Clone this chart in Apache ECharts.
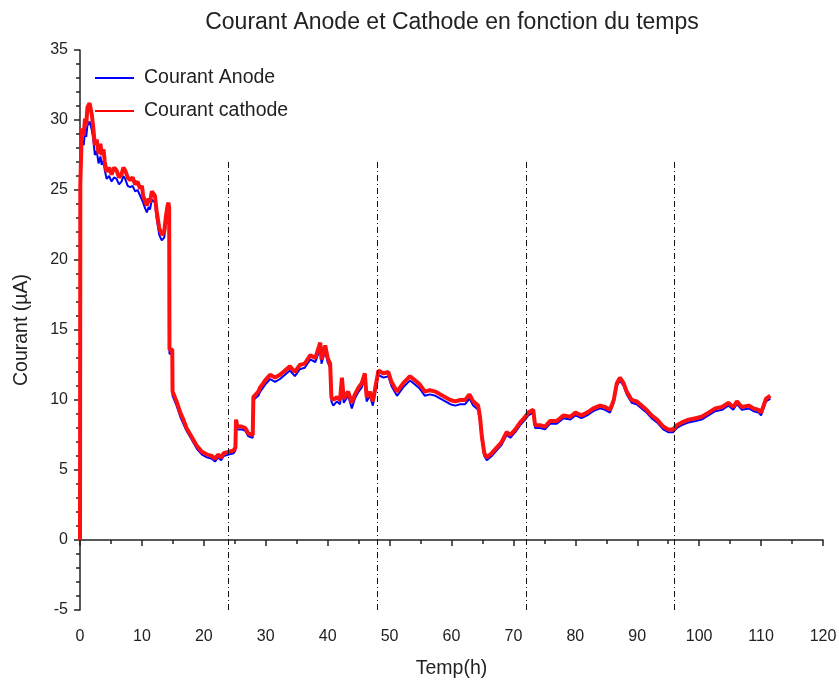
<!DOCTYPE html>
<html>
<head>
<meta charset="utf-8">
<title>Courant Anode et Cathode</title>
<script src="https://cdn.jsdelivr.net/npm/echarts@6/dist/echarts.min.js"></script>
<style>
  html, body { margin: 0; padding: 0; background: #fff; }
  #chart { width: 839px; height: 681px; }
</style>
</head>
<body>
<div id="chart"></div>
<script>
// Time axis (hours) shared by both current series
const temps = [
  0, 0.05, 0.3, 0.6, 0.8, 1.0, 1.2, 1.55, 1.9, 2.15, 2.4, 2.7, 3.0, 3.3, 3.5, 3.8, 4.0, 4.3, 4.7, 5.1,
  5.5, 5.9, 6.3, 6.7, 7.0, 7.3, 7.7, 8.1, 8.5, 8.9, 9.3, 9.7, 10.0, 10.2, 10.5, 10.8, 11.1, 11.3, 11.6, 11.8,
  12.1, 12.4, 12.8, 13.2, 13.6, 13.9, 14.15, 14.3, 14.4, 14.45, 14.9, 14.95, 15.1, 15.6, 16.2, 16.7, 17.2, 18.0, 18.9, 19.7,
  20.5, 21.3, 21.8, 22.3, 22.8, 23.2, 24.0, 24.8, 25.1, 25.2, 25.4, 26.1, 26.7, 27.2, 27.9, 28.0, 28.3, 28.8, 29.1, 29.6,
  29.9, 30.7, 31.5, 32.3, 33.1, 33.9, 34.7, 35.5, 36.3, 37.2, 38.0, 38.8, 39.0, 39.6, 40.0, 40.4, 40.6, 40.9, 41.5, 42.0,
  42.3, 42.6, 43.3, 43.9, 44.4, 45.0, 45.5, 46.0, 46.3, 46.8, 47.3, 47.7, 48.2, 49.0, 49.8, 50.3, 51.2, 52.2, 53.3, 54.1,
  54.9, 55.7, 56.5, 57.4, 58.2, 59.0, 59.8, 60.6, 61.4, 62.2, 62.9, 63.5, 64.3, 64.6, 64.9, 65.3, 65.7, 66.5, 67.3, 68.1,
  68.9, 69.5, 70.3, 71.1, 71.9, 72.4, 73.2, 73.5, 74.3, 75.1, 75.9, 77.0, 78.1, 79.2, 80.0, 81.0, 81.9, 82.9, 84.0, 84.8,
  85.6, 86.2, 86.7, 87.2, 87.8, 88.3, 89.1, 89.9, 90.7, 91.5, 92.3, 93.2, 94.2, 95.0, 95.8, 96.4, 97.2, 98.3, 99.4, 100.4,
  101.5, 102.6, 103.7, 104.7, 105.5, 106.1, 106.9, 108.0, 108.8, 109.6, 110.0, 110.4, 110.8, 111.5
];

// Cathode current (µA)
const courantCathode = [
  0, 25.4, 29.4, 28.9, 30.1, 29.6, 30.9, 31.2, 30.4, 29.4, 28.2, 28.6, 27.6, 28.3, 27.5, 27.9, 27.0, 26.3, 26.6, 26.1,
  26.6, 26.4, 25.9, 26.1, 26.6, 26.4, 25.9, 25.7, 25.9, 25.4, 25.6, 25.1, 25.3, 24.6, 24.2, 23.9, 24.4, 24.1, 24.9, 25.0,
  24.6, 23.4, 22.3, 21.8, 22.0, 23.2, 23.9, 24.1, 23.7, 13.6, 13.6, 10.6, 10.5, 9.9, 9.1, 8.6, 8.0, 7.4, 6.7, 6.3,
  6.1, 6.0, 5.8, 6.1, 5.9, 6.2, 6.3, 6.4, 6.6, 8.6, 8.1, 8.1, 8.0, 7.6, 7.5, 10.2, 10.2, 10.6, 10.9, 11.2,
  11.4, 11.8, 11.6, 11.8, 12.1, 12.4, 12.0, 12.5, 12.6, 13.2, 13.0, 14.1, 12.9, 13.9, 13.0, 12.6, 10.2, 10.0, 10.2, 10.0,
  11.6, 10.1, 10.6, 9.8, 10.4, 10.9, 11.2, 11.9, 10.2, 10.6, 9.9, 10.9, 12.1, 11.9, 12.0, 11.3, 10.6, 11.2, 11.7, 11.4,
  11.1, 10.6, 10.7, 10.6, 10.4, 10.2, 10.0, 9.9, 10.0, 10.0, 10.4, 9.9, 9.6, 8.8, 7.4, 6.2, 5.9, 6.2, 6.6, 7.0,
  7.7, 7.5, 7.9, 8.4, 8.8, 9.1, 9.3, 8.2, 8.2, 8.1, 8.5, 8.5, 8.9, 8.8, 9.1, 8.9, 9.1, 9.4, 9.6, 9.5,
  9.3, 10.0, 11.2, 11.6, 11.2, 10.6, 10.0, 9.9, 9.6, 9.3, 8.9, 8.6, 8.1, 7.9, 7.9, 8.2, 8.4, 8.6, 8.7, 8.8,
  9.1, 9.4, 9.5, 9.8, 9.5, 9.9, 9.5, 9.6, 9.4, 9.3, 9.1, 9.6, 10.1, 10.3
];

// Anode current (µA), sitting just under the cathode trace
const courantAnode = [
  0, 24.9, 28.6, 28.2, 29.2, 28.8, 29.6, 29.9, 29.3, 28.6, 27.5, 27.8, 26.9, 27.4, 26.8, 27.1, 26.4, 25.8, 26.0, 25.6,
  25.9, 25.8, 25.4, 25.6, 26.0, 25.8, 25.3, 25.2, 25.3, 24.9, 25.0, 24.6, 24.7, 24.1, 23.7, 23.4, 23.8, 23.6, 24.3, 24.4,
  24.1, 22.9, 21.8, 21.4, 21.6, 22.7, 23.5, 23.7, 23.3, 13.3, 13.3, 10.3, 10.2, 9.6, 8.8, 8.3, 7.8, 7.2, 6.5, 6.1,
  5.9, 5.8, 5.6, 5.9, 5.7, 6.0, 6.1, 6.2, 6.4, 8.4, 7.9, 7.9, 7.8, 7.4, 7.3, 10.0, 9.9, 10.3, 10.6, 10.9,
  11.1, 11.5, 11.3, 11.5, 11.8, 12.1, 11.7, 12.2, 12.3, 12.9, 12.7, 13.7, 12.6, 13.5, 12.7, 12.3, 9.9, 9.6, 9.9, 9.7,
  11.2, 9.8, 10.3, 9.4, 10.1, 10.6, 10.9, 11.5, 9.9, 10.3, 9.6, 10.6, 11.8, 11.6, 11.7, 11.0, 10.3, 10.9, 11.4, 11.1,
  10.8, 10.3, 10.4, 10.3, 10.1, 9.9, 9.7, 9.6, 9.7, 9.7, 10.1, 9.6, 9.3, 8.5, 7.1, 6.0, 5.7, 6.0, 6.4, 6.8,
  7.5, 7.3, 7.7, 8.2, 8.6, 8.9, 9.1, 8.0, 8.0, 7.9, 8.3, 8.3, 8.7, 8.6, 8.9, 8.7, 8.9, 9.2, 9.4, 9.3,
  9.1, 9.8, 11.0, 11.4, 11.0, 10.4, 9.8, 9.7, 9.4, 9.1, 8.7, 8.4, 7.9, 7.7, 7.7, 8.0, 8.2, 8.4, 8.5, 8.6,
  8.9, 9.2, 9.3, 9.6, 9.3, 9.7, 9.3, 9.4, 9.2, 9.1, 8.9, 9.4, 9.9, 10.1
];

// Day boundaries marked with dash-dot verticals
const reperesJours = [24, 48, 72, 96];
const hauteurReperes = 27.1;

const xTicks = { min: 0, max: 120, interval: 10 };
const yTicks = { min: -5, max: 35, interval: 5 };

const police = "'Liberation Sans', Arial, sans-serif";
const encre = '#222';

const pairs = (vals) => temps.map((t, i) => [t, vals[i]]);

const chart = echarts.init(document.getElementById('chart'), null, { renderer: 'canvas' });

const trait = { color: encre, width: 1.5 };

chart.setOption({
  animation: false,
  backgroundColor: '#ffffff',
  textStyle: { fontFamily: police },
  title: {
    text: 'Courant Anode et Cathode en fonction du temps',
    left: 447,
    textAlign: 'center',
    top: 6,
    textStyle: { fontSize: 23, fontWeight: 'normal', color: encre, fontFamily: police }
  },
  legend: {
    orient: 'vertical',
    left: 90,
    top: 63,
    itemWidth: 39,
    itemHeight: 2,
    itemGap: 13,
    textStyle: { fontSize: 19.5, color: encre, fontFamily: police, padding: [0, 0, 0, 5] },
    data: [
      { name: 'Courant Anode', icon: 'rect' },
      { name: 'Courant cathode', icon: 'rect' }
    ]
  },
  grid: { left: 80, right: 16, top: 50, bottom: 71, containLabel: false, outerBoundsMode: 'none' },
  xAxis: {
    type: 'value',
    min: xTicks.min,
    max: xTicks.max,
    interval: xTicks.interval,
    name: 'Temp(h)',
    nameLocation: 'middle',
    nameGap: 49,
    nameTextStyle: { fontSize: 19.5, color: encre, fontFamily: police },
    axisLine: { show: true, lineStyle: trait },
    axisTick: { show: true, inside: false, length: 6, lineStyle: trait },
    minorTick: { show: true, splitNumber: 2, length: 4, lineStyle: trait },
    axisLabel: { fontSize: 16, color: encre, margin: 19, fontFamily: police },
    splitLine: { show: false }
  },
  yAxis: {
    type: 'value',
    min: yTicks.min,
    max: yTicks.max,
    interval: yTicks.interval,
    name: 'Courant (µA)',
    nameLocation: 'middle',
    nameGap: 48,
    nameRotate: 90,
    nameTextStyle: { fontSize: 19.5, color: encre, fontFamily: police },
    axisLine: { show: true, onZero: false, lineStyle: trait },
    axisTick: { show: true, inside: false, length: 6, lineStyle: trait },
    minorTick: { show: true, splitNumber: 5, length: 4, lineStyle: trait },
    axisLabel: { fontSize: 16, color: encre, margin: 12, fontFamily: police },
    splitLine: { show: false }
  },
  series: [
    {
      name: 'Courant Anode',
      type: 'line',
      data: pairs(courantAnode),
      symbol: 'none',
      color: '#0000ff',
      lineStyle: { color: '#0000ff', width: 2 },
      z: 2,
      markLine: {
        silent: true,
        symbol: ['none', 'none'],
        label: { show: false },
        lineStyle: { color: '#111', width: 1, type: [6, 3, 1, 3] },
        data: reperesJours.map((t) => [
          { coord: [t, yTicks.min] },
          { coord: [t, hauteurReperes] }
        ])
      }
    },
    {
      name: 'Courant cathode',
      type: 'line',
      data: pairs(courantCathode),
      symbol: 'none',
      color: '#ff0000',
      lineStyle: { color: '#ff1010', width: 4 },
      z: 3
    }
  ]
});
</script>
</body>
</html>
